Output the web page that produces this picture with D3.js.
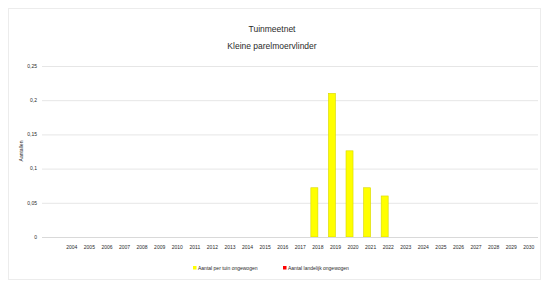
<!DOCTYPE html>
<html>
<head>
<meta charset="utf-8">
<script src="https://cdn.jsdelivr.net/npm/d3@7"></script>
<style>
  body { margin: 0; background: #fff; }
  text { font-family: "Liberation Sans", Arial, sans-serif; fill: #2a2a2a; }
</style>
</head>
<body>
<svg id="chart" width="542" height="282"></svg>
<script>
// years on the x axis
var years = d3.range(2004, 2031).map(String);
// yellow series, only 2018-2022 have values
var perTuin = [0, 0, 0, 0, 0, 0, 0, 0, 0, 0, 0, 0, 0, 0, 0.072, 0.21, 0.126, 0.072, 0.06, 0, 0, 0, 0, 0, 0, 0, 0];
// red series is empty
var landelijk = [0, 0, 0, 0, 0, 0, 0, 0, 0, 0, 0, 0, 0, 0, 0, 0, 0, 0, 0, 0, 0, 0, 0, 0, 0, 0, 0];
var yTicks = [0, 0.05, 0.1, 0.15, 0.2, 0.25];
var titleLines = ["Tuinmeetnet", "Kleine parelmoervlinder"];
var seriesNames = ["Aantal per tuin ongewogen", "Aantal landelijk ongewogen"];
var seriesColors = ["#ffff00", "#ff0000"];

var svg = d3.select("#chart");

// outer frame
svg.append("rect")
    .attr("x", 8.5).attr("y", 8.5)
    .attr("width", 532).attr("height", 271)
    .attr("fill", "#fff")
    .attr("stroke", "#ececec");

var plotLeft = 42, plotRight = 538;

var x = d3.scaleBand()
    .domain(years)
    .range([63, 537.6]);

var x1 = d3.scaleBand()
    .domain([0, 1])
    .range([0, x.bandwidth()])
    .paddingOuter(0.25);

var y = d3.scaleLinear()
    .domain([0, 0.25])
    .range([237, 66]);

var fmt = function (d) { return String(d).replace(".", ","); };

// gridlines
svg.append("g").selectAll("line")
    .data(yTicks.slice(1))
    .enter().append("line")
    .attr("x1", plotLeft).attr("x2", plotRight)
    .attr("y1", function (d) { return y(d) + 0.5; })
    .attr("y2", function (d) { return y(d) + 0.5; })
    .attr("stroke", "#e6e6e6")
    .attr("stroke-width", 1);

// y tick labels
svg.append("g").selectAll("text")
    .data(yTicks)
    .enter().append("text")
    .attr("x", 37)
    .attr("y", function (d) { return y(d); })
    .attr("dy", "0.35em")
    .attr("text-anchor", "end")
    .style("font-size", "5px")
    .text(fmt);

// y axis title
svg.append("text")
    .attr("transform", "translate(23,151) rotate(-90)")
    .attr("text-anchor", "middle")
    .style("font-size", "5px")
    .text("Aantallen");

// bars
var series = [perTuin, landelijk];
series.forEach(function (vals, s) {
    svg.append("g").selectAll("rect")
        .data(vals.map(function (v, i) { return { year: years[i], value: v }; }).filter(function (d) { return d.value > 0; }))
        .enter().append("rect")
        .attr("x", function (d) { return x(d.year) + x1(s); })
        .attr("width", x1.bandwidth())
        .attr("y", function (d) { return y(d.value); })
        .attr("height", function (d) { return y(0) - y(d.value); })
        .attr("fill", seriesColors[s])
        .attr("stroke", "#d8d800")
        .attr("stroke-width", 0.6);
});

// baseline
svg.append("line")
    .attr("x1", plotLeft).attr("x2", plotRight)
    .attr("y1", y(0) + 0.5).attr("y2", y(0) + 0.5)
    .attr("stroke", "#d9d9d9");

// x tick labels
svg.append("g").selectAll("text")
    .data(years)
    .enter().append("text")
    .attr("x", function (d) { return x(d) + x.bandwidth() / 2; })
    .attr("y", 249)
    .attr("text-anchor", "middle")
    .style("font-size", "5px")
    .text(function (d) { return d; });

// title
svg.append("g").selectAll("text")
    .data(titleLines)
    .enter().append("text")
    .attr("x", 272)
    .attr("y", function (d, i) { return 32 + i * 17; })
    .attr("text-anchor", "middle")
    .style("font-size", "8.5px")
    .text(function (d) { return d; });

// legend
var legend = svg.append("g");
var lx = [193, 283];
seriesNames.forEach(function (name, i) {
    legend.append("rect")
        .attr("x", lx[i]).attr("y", 266)
        .attr("width", 3.5).attr("height", 3.5)
        .attr("fill", seriesColors[i]);
    legend.append("text")
        .attr("x", lx[i] + 5)
        .attr("y", 268)
        .attr("dy", "0.35em")
        .style("font-size", "5px")
        .text(name);
});
</script>
</body>
</html>
